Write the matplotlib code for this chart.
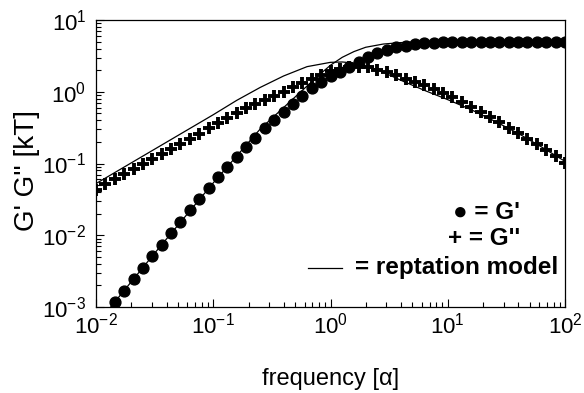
import numpy as np
import matplotlib
matplotlib.use("Agg")
import matplotlib.pyplot as plt
from matplotlib.ticker import LogLocator, NullFormatter

plt.rcParams['font.family'] = ['Liberation Sans', 'DejaVu Sans']

# frequency grid of the simulation points (log10)
log_freq = np.linspace(-2.0, 2.0, 51)

# G' (circles), log10 values
log_g1 = [-3.25, -3.09, -2.93, -2.77, -2.61, -2.45, -2.29, -2.13, -1.97, -1.81,
          -1.65, -1.49, -1.34, -1.19, -1.05, -0.91, -0.77, -0.64, -0.51, -0.39,
          -0.28, -0.17, -0.06, 0.05, 0.14, 0.22, 0.28, 0.34, 0.41, 0.48,
          0.54, 0.585, 0.617, 0.643, 0.663, 0.677, 0.685, 0.690, 0.693, 0.695,
          0.696, 0.697, 0.698, 0.698, 0.699, 0.699, 0.699, 0.70, 0.70, 0.70, 0.70]

# G'' (plus signs)
log_g2 = [-1.37, -1.29, -1.22, -1.15, -1.08, -1.01, -0.94, -0.87, -0.80, -0.73,
          -0.66, -0.59, -0.50, -0.43, -0.36, -0.295, -0.23, -0.17, -0.11, -0.055,
          0.00, 0.06, 0.12, 0.18, 0.235, 0.285, 0.32, 0.34, 0.35, 0.34,
          0.31, 0.28, 0.24, 0.18, 0.14, 0.09, 0.04, -0.02, -0.07, -0.14,
          -0.21, -0.28, -0.35, -0.425, -0.505, -0.58, -0.655, -0.73, -0.81, -0.89, -0.99]

# reptation model curves
model_g1_x = [-2.0, -1.5, -1.0, -0.6, -0.4, -0.3, -0.2, -0.1, 0.0, 0.1, 0.2, 0.3,
              0.45, 0.6, 0.8, 1.0, 1.5, 2.0]
model_g1_y = [-3.25, -2.25, -1.27, -0.52, -0.22, -0.07, 0.08, 0.23, 0.37, 0.48,
              0.56, 0.62, 0.665, 0.685, 0.695, 0.70, 0.70, 0.70]

model_g2_x = [-2.0, -1.5, -1.0, -0.8, -0.6, -0.4, -0.2, 0.0, 0.1, 0.2, 0.4, 0.6,
              0.8, 1.0, 1.2, 1.4, 1.6, 1.8, 2.0]
model_g2_y = [-1.28, -0.80, -0.32, -0.12, 0.06, 0.22, 0.35, 0.41, 0.415, 0.40,
              0.31, 0.16, 0.02, -0.11, -0.25, -0.41, -0.58, -0.77, -0.97]

freq = 10 ** log_freq

fig = plt.figure(figsize=(5.84, 3.93), dpi=100)
ax = fig.add_axes([0.1644, 0.2188, 0.8031, 0.7303])

ax.plot(10 ** np.array(model_g1_x), 10 ** np.array(model_g1_y), color='black', lw=0.9)
ax.plot(10 ** np.array(model_g2_x), 10 ** np.array(model_g2_y), color='black', lw=0.9)
ax.plot(freq, 10 ** np.array(log_g1), 'o', color='black', ms=7.8, mec='black')
ax.plot(freq, 10 ** np.array(log_g2), '+', color='black', ms=8.5, mew=2.8)

ax.set_xscale('log')
ax.set_yscale('log')
ax.set_xlim(1e-2, 1e2)
ax.set_ylim(1e-3, 1e1)

ax.xaxis.set_major_locator(LogLocator(base=10, numticks=10))
ax.yaxis.set_major_locator(LogLocator(base=10, numticks=10))
ax.xaxis.set_minor_locator(LogLocator(base=10, subs=np.arange(2, 10), numticks=10))
ax.yaxis.set_minor_locator(LogLocator(base=10, subs=np.arange(2, 10), numticks=10))
ax.xaxis.set_minor_formatter(NullFormatter())
ax.yaxis.set_minor_formatter(NullFormatter())

ax.tick_params(which='both', direction='in', top=False, right=False, labelsize=16)
ax.tick_params(which='major', length=6, width=0.8)
ax.tick_params(which='minor', length=3.5, width=0.8)
ax.tick_params(axis='x', pad=4)
ax.tick_params(axis='y', pad=7)
for s in ax.spines.values():
    s.set_linewidth(0.9)

ax.set_xlabel('frequency [α]', fontsize=17)
ax.xaxis.set_label_coords(0.5, -0.212)
ax.set_ylabel("G' G'' [kT]", fontsize=20)
ax.yaxis.set_label_coords(-0.119, 0.477)

# legend written as text
ax.text(0.904, 0.331, "● = G'", transform=ax.transAxes, ha='right', va='center',
        fontsize=17.5, fontweight='bold')
ax.text(0.904, 0.240, "+ = G''", transform=ax.transAxes, ha='right', va='center',
        fontsize=17.5, fontweight='bold')
ax.text(0.985, 0.136, "= reptation model", transform=ax.transAxes, ha='right', va='center',
        fontsize=17.5, fontweight='bold')
ax.plot([0.452, 0.525], [0.136, 0.136], transform=ax.transAxes, color='black', lw=0.9)

fig.savefig('out.png', dpi=100)
